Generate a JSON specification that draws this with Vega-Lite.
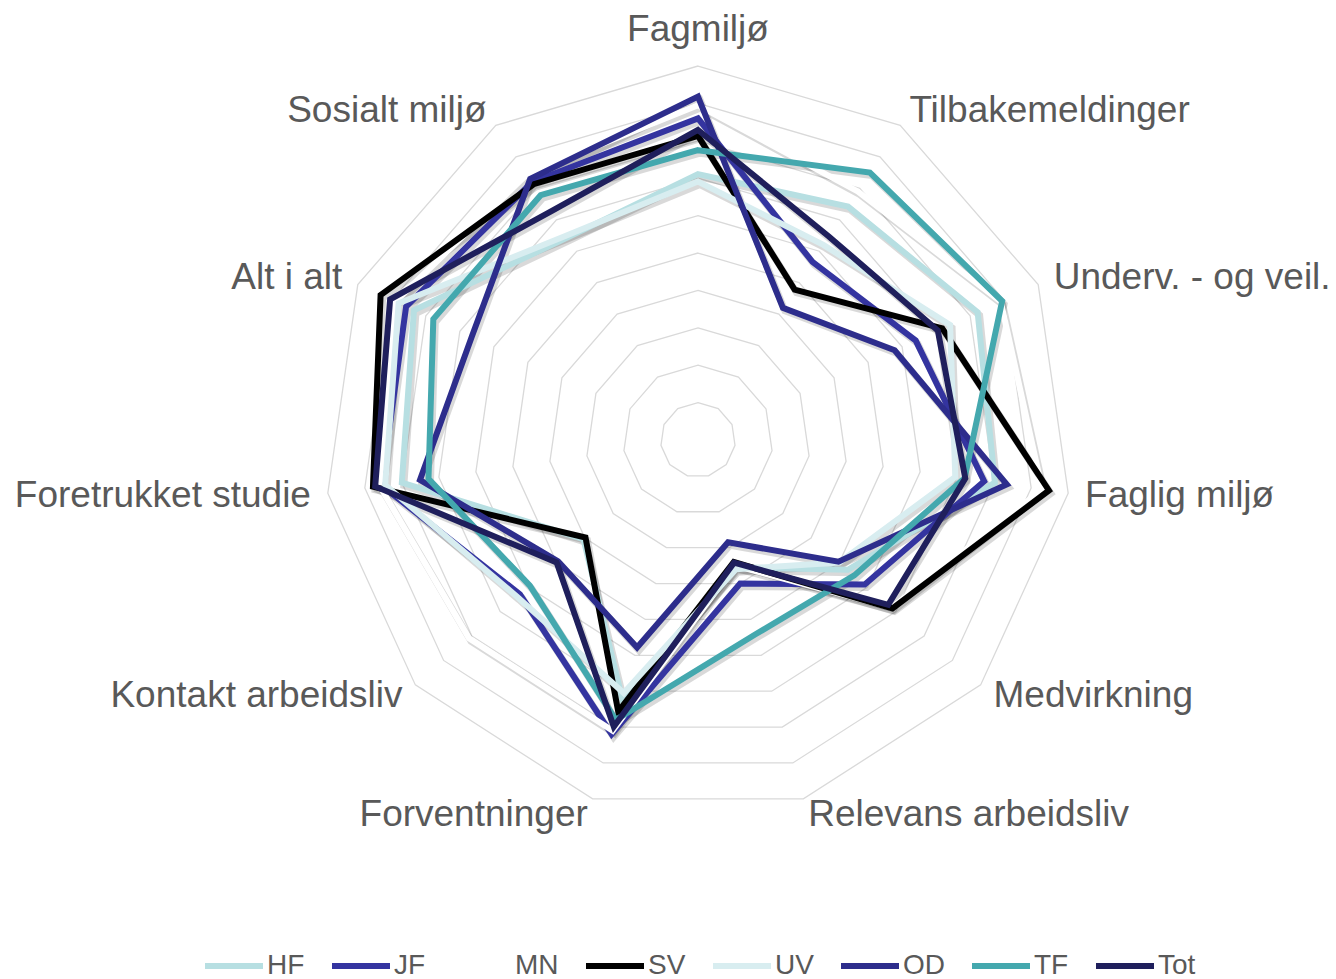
{
  "$schema": "https://vega.github.io/schema/vega-lite/v6.json",
  "width": 1336,
  "height": 979,
  "autosize": {"type": "none"},
  "padding": 0,
  "background": "white",
  "config": {"view": {"stroke": null}},
  "datasets": {
    "axes": [
      {"axis": "Fagmiljø", "k": 0, "levels": [1,2,3,4,5,6,7,8,9,10]},
      {"axis": "Tilbakemeldinger", "k": 1, "levels": [1,2,3,4,5,6,7,8,9,10]},
      {"axis": "Underv. - og veil.", "k": 2, "levels": [1,2,3,4,5,6,7,8,9,10]},
      {"axis": "Faglig miljø", "k": 3, "levels": [1,2,3,4,5,6,7,8,9,10]},
      {"axis": "Medvirkning", "k": 4, "levels": [1,2,3,4,5,6,7,8,9,10]},
      {"axis": "Relevans arbeidsliv", "k": 5, "levels": [1,2,3,4,5,6,7,8,9,10]},
      {"axis": "Forventninger", "k": 6, "levels": [1,2,3,4,5,6,7,8,9,10]},
      {"axis": "Kontakt arbeidsliv", "k": 7, "levels": [1,2,3,4,5,6,7,8,9,10]},
      {"axis": "Foretrukket studie", "k": 8, "levels": [1,2,3,4,5,6,7,8,9,10]},
      {"axis": "Alt i alt", "k": 9, "levels": [1,2,3,4,5,6,7,8,9,10]},
      {"axis": "Sosialt miljø", "k": 10, "levels": [1,2,3,4,5,6,7,8,9,10]}
    ],
    "scores": [
      {"series": "HF", "axis": "Fagmiljø", "value": 7.11},
      {"series": "HF", "axis": "Tilbakemeldinger", "value": 7.42},
      {"series": "HF", "axis": "Underv. - og veil.", "value": 8.22},
      {"series": "HF", "axis": "Faglig miljø", "value": 8.02},
      {"series": "HF", "axis": "Medvirkning", "value": 5.3},
      {"series": "HF", "axis": "Relevans arbeidsliv", "value": 3.55},
      {"series": "HF", "axis": "Forventninger", "value": 7.2},
      {"series": "HF", "axis": "Kontakt arbeidsliv", "value": 4.05},
      {"series": "HF", "axis": "Foretrukket studie", "value": 8.0},
      {"series": "HF", "axis": "Alt i alt", "value": 8.35},
      {"series": "HF", "axis": "Sosialt miljø", "value": 6.44},

      {"series": "JF", "axis": "Fagmiljø", "value": 8.6},
      {"series": "JF", "axis": "Tilbakemeldinger", "value": 5.66},
      {"series": "JF", "axis": "Underv. - og veil.", "value": 6.4},
      {"series": "JF", "axis": "Faglig miljø", "value": 7.73},
      {"series": "JF", "axis": "Medvirkning", "value": 5.9},
      {"series": "JF", "axis": "Relevans arbeidsliv", "value": 4.0},
      {"series": "JF", "axis": "Forventninger", "value": 8.2},
      {"series": "JF", "axis": "Kontakt arbeidsliv", "value": 6.3},
      {"series": "JF", "axis": "Foretrukket studie", "value": 8.55},
      {"series": "JF", "axis": "Alt i alt", "value": 8.58},
      {"series": "JF", "axis": "Sosialt miljø", "value": 8.2},

      {"series": "MN", "axis": "Fagmiljø", "value": 8.95},
      {"series": "MN", "axis": "Tilbakemeldinger", "value": 7.9},
      {"series": "MN", "axis": "Underv. - og veil.", "value": 8.9},
      {"series": "MN", "axis": "Faglig miljø", "value": 9.3},
      {"series": "MN", "axis": "Medvirkning", "value": 6.85},
      {"series": "MN", "axis": "Relevans arbeidsliv", "value": 3.5},
      {"series": "MN", "axis": "Forventninger", "value": 8.1},
      {"series": "MN", "axis": "Kontakt arbeidsliv", "value": 8.1},
      {"series": "MN", "axis": "Foretrukket studie", "value": 8.6},
      {"series": "MN", "axis": "Alt i alt", "value": 8.9},
      {"series": "MN", "axis": "Sosialt miljø", "value": 8.45},

      {"series": "SV", "axis": "Fagmiljø", "value": 8.13},
      {"series": "SV", "axis": "Tilbakemeldinger", "value": 4.78},
      {"series": "SV", "axis": "Underv. - og veil.", "value": 7.18},
      {"series": "SV", "axis": "Faglig miljø", "value": 9.48},
      {"series": "SV", "axis": "Medvirkning", "value": 6.88},
      {"series": "SV", "axis": "Relevans arbeidsliv", "value": 3.4},
      {"series": "SV", "axis": "Forventninger", "value": 7.57},
      {"series": "SV", "axis": "Kontakt arbeidsliv", "value": 3.98},
      {"series": "SV", "axis": "Foretrukket studie", "value": 8.78},
      {"series": "SV", "axis": "Alt i alt", "value": 9.33},
      {"series": "SV", "axis": "Sosialt miljø", "value": 8.13},

      {"series": "UV", "axis": "Fagmiljø", "value": 6.91},
      {"series": "UV", "axis": "Tilbakemeldinger", "value": 6.2},
      {"series": "UV", "axis": "Underv. - og veil.", "value": 7.41},
      {"series": "UV", "axis": "Faglig miljø", "value": 6.95},
      {"series": "UV", "axis": "Medvirkning", "value": 5.0},
      {"series": "UV", "axis": "Relevans arbeidsliv", "value": 3.6},
      {"series": "UV", "axis": "Forventninger", "value": 7.05},
      {"series": "UV", "axis": "Kontakt arbeidsliv", "value": 6.4},
      {"series": "UV", "axis": "Foretrukket studie", "value": 8.45},
      {"series": "UV", "axis": "Alt i alt", "value": 8.8},
      {"series": "UV", "axis": "Sosialt miljø", "value": 6.5},

      {"series": "OD", "axis": "Fagmiljø", "value": 9.18},
      {"series": "OD", "axis": "Tilbakemeldinger", "value": 4.2},
      {"series": "OD", "axis": "Underv. - og veil.", "value": 5.78},
      {"series": "OD", "axis": "Faglig miljø", "value": 8.34},
      {"series": "OD", "axis": "Medvirkning", "value": 4.97},
      {"series": "OD", "axis": "Relevans arbeidsliv", "value": 2.85},
      {"series": "OD", "axis": "Forventninger", "value": 5.78},
      {"series": "OD", "axis": "Kontakt arbeidsliv", "value": 4.95},
      {"series": "OD", "axis": "Foretrukket studie", "value": 7.51},
      {"series": "OD", "axis": "Alt i alt", "value": 6.65},
      {"series": "OD", "axis": "Sosialt miljø", "value": 8.3},

      {"series": "TF", "axis": "Fagmiljø", "value": 7.75},
      {"series": "TF", "axis": "Tilbakemeldinger", "value": 8.5},
      {"series": "TF", "axis": "Underv. - og veil.", "value": 8.94},
      {"series": "TF", "axis": "Faglig miljø", "value": 7.2},
      {"series": "TF", "axis": "Medvirkning", "value": 5.53},
      {"series": "TF", "axis": "Relevans arbeidsliv", "value": 5.42},
      {"series": "TF", "axis": "Forventninger", "value": 7.8},
      {"series": "TF", "axis": "Kontakt arbeidsliv", "value": 5.95},
      {"series": "TF", "axis": "Foretrukket studie", "value": 7.28},
      {"series": "TF", "axis": "Alt i alt", "value": 7.78},
      {"series": "TF", "axis": "Sosialt miljø", "value": 7.78},

      {"series": "Tot", "axis": "Fagmiljø", "value": 8.29},
      {"series": "Tot", "axis": "Tilbakemeldinger", "value": 6.47},
      {"series": "Tot", "axis": "Underv. - og veil.", "value": 7.05},
      {"series": "Tot", "axis": "Faglig miljø", "value": 7.22},
      {"series": "Tot", "axis": "Medvirkning", "value": 6.73},
      {"series": "Tot", "axis": "Relevans arbeidsliv", "value": 3.42},
      {"series": "Tot", "axis": "Forventninger", "value": 7.99},
      {"series": "Tot", "axis": "Kontakt arbeidsliv", "value": 5.0},
      {"series": "Tot", "axis": "Foretrukket studie", "value": 8.72},
      {"series": "Tot", "axis": "Alt i alt", "value": 9.05},
      {"series": "Tot", "axis": "Sosialt miljø", "value": 7.27}
    ]
  },
  "layer": [
    {
      "data": {"name": "axes"},
      "transform": [
        {"flatten": ["levels"], "as": ["level"]},
        {"calculate": "datum.k * 2 * PI / 11", "as": "ang"},
        {"calculate": "datum.level * sin(datum.ang)", "as": "px"},
        {"calculate": "datum.level * cos(datum.ang)", "as": "py"}
      ],
      "mark": {"type": "line", "interpolate": "linear-closed", "color": "#d9d9d9", "strokeWidth": 1.3},
      "encoding": {
        "x": {"field": "px", "type": "quantitative", "axis": null, "scale": {"domain": [-18.663, 17.059], "nice": false, "zero": false}},
        "y": {"field": "py", "type": "quantitative", "axis": null, "scale": {"domain": [-14.412, 11.765], "nice": false, "zero": false}},
        "detail": {"field": "level", "type": "nominal"},
        "order": {"field": "k", "type": "quantitative"}
      }
    },
    {
      "data": {"name": "scores"},
      "transform": [
        {"lookup": "axis", "from": {"data": {"name": "axes"}, "key": "axis", "fields": ["k"]}},
        {"calculate": "datum.k * 2 * PI / 11", "as": "ang"},
        {"calculate": "datum.value * sin(datum.ang)", "as": "px"},
        {"calculate": "datum.value * cos(datum.ang)", "as": "py"}
      ],
      "mark": {"type": "line", "interpolate": "linear-closed", "color": "#000000", "opacity": 0.15, "strokeWidth": 7, "xOffset": 2, "yOffset": 3},
      "encoding": {
        "x": {"field": "px", "type": "quantitative", "axis": null},
        "y": {"field": "py", "type": "quantitative", "axis": null},
        "detail": {"field": "series", "type": "nominal"},
        "order": {"field": "k", "type": "quantitative"}
      }
    },
    {
      "data": {"name": "scores"},
      "transform": [
        {"lookup": "axis", "from": {"data": {"name": "axes"}, "key": "axis", "fields": ["k"]}},
        {"calculate": "datum.k * 2 * PI / 11", "as": "ang"},
        {"calculate": "datum.value * sin(datum.ang)", "as": "px"},
        {"calculate": "datum.value * cos(datum.ang)", "as": "py"}
      ],
      "mark": {"type": "line", "interpolate": "linear-closed", "strokeWidth": 6},
      "encoding": {
        "x": {"field": "px", "type": "quantitative", "axis": null},
        "y": {"field": "py", "type": "quantitative", "axis": null},
        "order": {"field": "k", "type": "quantitative"},
        "color": {
          "field": "series",
          "type": "nominal",
          "scale": {
            "domain": ["HF", "JF", "MN", "SV", "UV", "OD", "TF", "Tot"],
            "range": ["#b7dfe2", "#3434a0", "#ffffff", "#000000", "#d8edf0", "#2d2d8c", "#44a8ae", "#1f1f5c"]
          },
          "legend": {
            "title": null,
            "orient": "none",
            "legendX": 202,
            "legendY": 934,
            "padding": 0,
            "direction": "horizontal",
            "columns": 8,
            "symbolType": "stroke",
            "symbolSize": 3364,
            "symbolStrokeWidth": 6,
            "labelFontSize": 28,
            "labelFont": "Liberation Sans",
            "labelColor": "#595959",
            "labelOffset": 1,
            "columnPadding": 15,
            "labelLimit": 200
          }
        }
      }
    },
    {
      "data": {"name": "axes"},
      "transform": [
        {"filter": "datum.k == 0"},
        {"calculate": "datum.k * 2 * PI / 11", "as": "ang"},
        {"calculate": "10.455 * sin(datum.ang)", "as": "px"},
        {"calculate": "10.455 * cos(datum.ang)", "as": "py"}
      ],
      "mark": {"type": "text", "align": "center", "baseline": "bottom", "font": "Liberation Sans", "fontSize": 37, "color": "#595959"},
      "encoding": {
        "x": {"field": "px", "type": "quantitative", "axis": null},
        "y": {"field": "py", "type": "quantitative", "axis": null},
        "text": {"field": "axis", "type": "nominal"}
      }
    },
    {
      "data": {"name": "axes"},
      "transform": [
        {"filter": "datum.k >= 1 && datum.k <= 5"},
        {"calculate": "datum.k * 2 * PI / 11", "as": "ang"},
        {"calculate": "10.455 * sin(datum.ang)", "as": "px"},
        {"calculate": "10.455 * cos(datum.ang)", "as": "py"}
      ],
      "mark": {"type": "text", "align": "left", "baseline": "middle", "font": "Liberation Sans", "fontSize": 37, "color": "#595959"},
      "encoding": {
        "x": {"field": "px", "type": "quantitative", "axis": null},
        "y": {"field": "py", "type": "quantitative", "axis": null},
        "text": {"field": "axis", "type": "nominal"}
      }
    },
    {
      "data": {"name": "axes"},
      "transform": [
        {"filter": "datum.k >= 6"},
        {"calculate": "datum.k * 2 * PI / 11", "as": "ang"},
        {"calculate": "10.455 * sin(datum.ang)", "as": "px"},
        {"calculate": "10.455 * cos(datum.ang)", "as": "py"}
      ],
      "mark": {"type": "text", "align": "right", "baseline": "middle", "font": "Liberation Sans", "fontSize": 37, "color": "#595959"},
      "encoding": {
        "x": {"field": "px", "type": "quantitative", "axis": null},
        "y": {"field": "py", "type": "quantitative", "axis": null},
        "text": {"field": "axis", "type": "nominal"}
      }
    }
  ]
}
